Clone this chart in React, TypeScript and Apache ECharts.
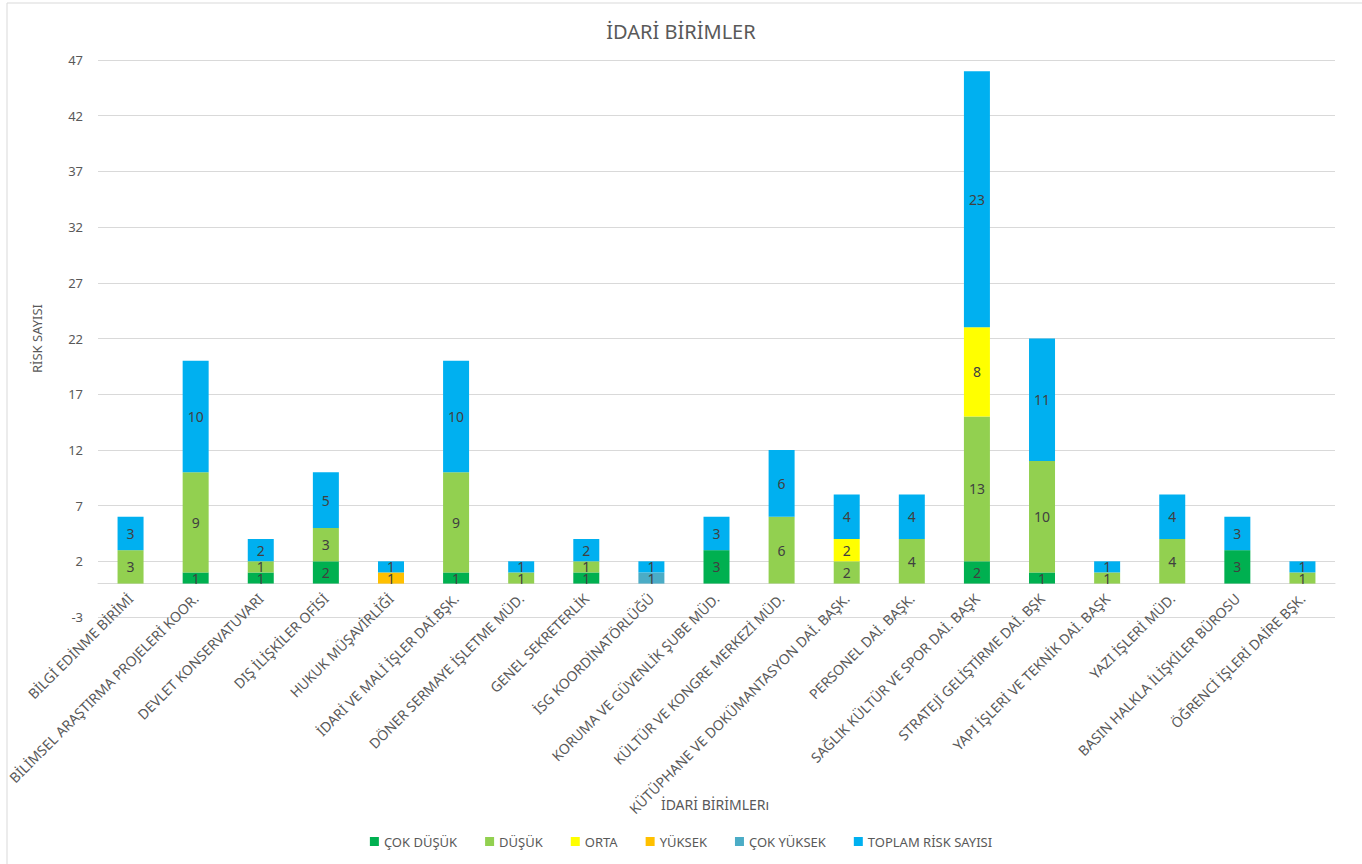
import React, { useEffect, useRef } from "react";
import * as echarts from "echarts";

const categories = [
  "BİLGİ EDİNME BİRİMİ",
  "BİLİMSEL ARAŞTIRMA PROJELERİ KOOR.",
  "DEVLET KONSERVATUVARI",
  "DIŞ İLİŞKİLER OFİSİ",
  "HUKUK MÜŞAVİRLİĞİ",
  "İDARİ VE MALİ İŞLER DAİ.BŞK.",
  "DÖNER SERMAYE İŞLETME MÜD.",
  "GENEL SEKRETERLİK",
  "İSG KOORDİNATÖRLÜĞÜ",
  "KORUMA VE GÜVENLİK ŞUBE MÜD.",
  "KÜLTÜR VE KONGRE MERKEZİ MÜD.",
  "KÜTÜPHANE VE DOKÜMANTASYON DAİ. BAŞK.",
  "PERSONEL DAİ. BAŞK.",
  "SAĞLIK KÜLTÜR VE SPOR DAİ. BAŞK",
  "STRATEJİ GELİŞTİRME DAİ. BŞK",
  "YAPI İŞLERİ VE TEKNİK DAİ. BAŞK",
  "YAZI İŞLERİ MÜD.",
  "BASIN HALKLA İLİŞKİLER BÜROSU",
  "ÖĞRENCİ İŞLERİ DAİRE BŞK.",
];

const cokDusuk = [0, 1, 1, 2, 0, 1, 0, 1, 0, 3, 0, 0, 0, 2, 1, 0, 0, 3, 0];
const dusuk = [3, 9, 1, 3, 0, 9, 1, 1, 0, 0, 6, 2, 4, 13, 10, 1, 4, 0, 1];
const orta = [0, 0, 0, 0, 0, 0, 0, 0, 0, 0, 0, 2, 0, 8, 0, 0, 0, 0, 0];
const yuksek = [0, 0, 0, 0, 1, 0, 0, 0, 0, 0, 0, 0, 0, 0, 0, 0, 0, 0, 0];
const cokYuksek = [0, 0, 0, 0, 0, 0, 0, 0, 1, 0, 0, 0, 0, 0, 0, 0, 0, 0, 0];
const toplam = [3, 10, 2, 5, 1, 10, 1, 2, 1, 3, 6, 4, 4, 23, 11, 1, 4, 3, 1];

const xAxisTitle = "İDARİ BİRİMLERı";

const seriesDefs = [
  { name: "ÇOK DÜŞÜK", data: cokDusuk, color: "#00B050" },
  { name: "DÜŞÜK", data: dusuk, color: "#92D050" },
  { name: "ORTA", data: orta, color: "#FFFF00" },
  { name: "YÜKSEK", data: yuksek, color: "#FFC000" },
  { name: "ÇOK YÜKSEK", data: cokYuksek, color: "#4BACC6" },
  { name: "TOPLAM RİSK SAYISI", data: toplam, color: "#00B0F0" },
];

const FONT = "'Noto Sans', 'Open Sans', sans-serif";

export default function App() {
  const ref = useRef<HTMLDivElement>(null);
  useEffect(() => {
    document.body.style.margin = "0";
    if (!ref.current) return;
    const chart = echarts.init(ref.current, null, { renderer: "svg" });
    chart.setOption({
      animation: false,
      backgroundColor: "#ffffff",
      textStyle: { fontFamily: FONT },
      title: {
        text: "İDARİ BİRİMLER",
        left: "center",
        top: 16,
        textStyle: { fontSize: 20, fontWeight: "normal", color: "#595959", fontFamily: FONT },
      },
      graphic: [
        {
          type: "rect",
          shape: { x: 7, y: 3, width: 1380, height: 900 },
          style: { fill: "none", stroke: "#d9d9d9", lineWidth: 1 },
          silent: true,
        },
        {
          type: "text",
          x: 715,
          y: 804,
          style: {
            text: xAxisTitle,
            fill: "#595959",
            fontSize: 14,
            fontFamily: FONT,
            align: "center",
            verticalAlign: "middle",
          },
          silent: true,
        },
      ],
      legend: {
        bottom: 11,
        left: "center",
        itemWidth: 9,
        itemHeight: 9,
        itemGap: 28,
        icon: "rect",
        textStyle: { fontSize: 13, color: "#595959", fontFamily: FONT },
        data: seriesDefs.map((s) => s.name),
      },
      grid: {
        left: 98,
        right: 27,
        top: 60,
        bottom: 247,
        containLabel: false,
        outerBoundsMode: "none",
      },
      xAxis: {
        type: "category",
        data: categories,
        axisLine: { show: true, onZero: true, lineStyle: { color: "#d9d9d9" } },
        axisTick: { show: false },
        axisLabel: {
          interval: 0,
          rotate: 45,
          fontSize: 14,
          color: "#595959",
          margin: -21,
          fontFamily: FONT,
        },
      },
      yAxis: {
        type: "value",
        min: -3,
        max: 47,
        interval: 5,
        name: "RİSK SAYISI",
        nameLocation: "middle",
        nameGap: 55,
        nameTextStyle: { fontSize: 13, color: "#595959", fontFamily: FONT },
        axisLine: { show: false },
        axisTick: { show: false },
        axisLabel: { fontSize: 13, color: "#595959", margin: 15, fontFamily: FONT },
        splitLine: { lineStyle: { color: "#d9d9d9" } },
      },
      series: seriesDefs.map((s) => ({
        name: s.name,
        type: "bar",
        stack: "total",
        barWidth: 26,
        data: s.data,
        itemStyle: { color: s.color },
        label: {
          show: true,
          position: "inside",
          color: "#404040",
          fontSize: 14,
          fontFamily: FONT,
          formatter: (p: any) => (p.value ? String(p.value) : ""),
        },
      })),
    });
    return () => chart.dispose();
  }, []);
  return <div ref={ref} style={{ width: 1362, height: 864 }} />;
}
